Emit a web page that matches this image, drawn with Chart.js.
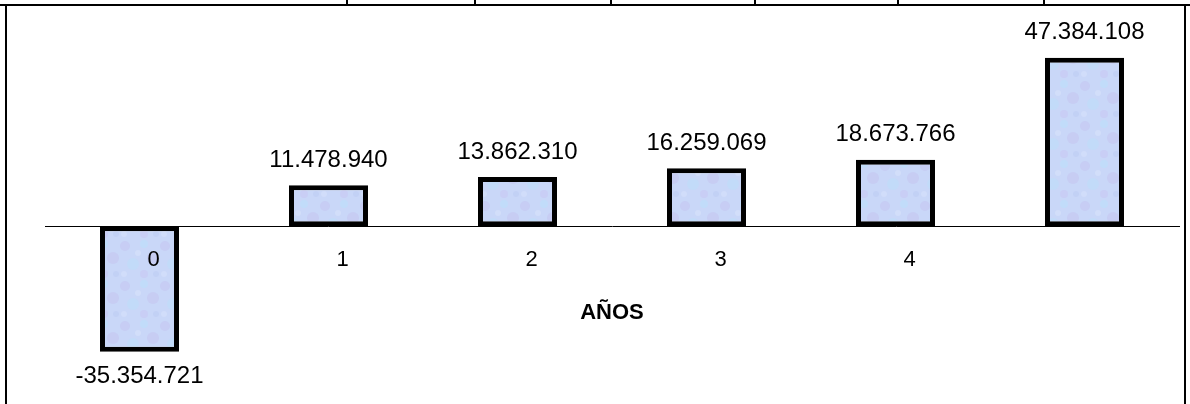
<!DOCTYPE html>
<html>
<head>
<meta charset="utf-8">
<script src="https://cdn.jsdelivr.net/npm/chart.js@4.4.1/dist/chart.umd.min.js"></script>
<style>
    html, body { margin: 0; padding: 0; background: #fff; }
    #wrap { position: relative; width: 1190px; height: 404px; overflow: hidden; }
    #wrap canvas { position: absolute; left: 0; top: 0; }
    .rule { position: absolute; background: #000; }
</style>
</head>
<body>
<div id="wrap">
    <canvas id="flujo" width="1190" height="404"></canvas>
    <!-- restos de la tabla de arriba -->
    <div class="rule" style="left:0;top:4px;width:1190px;height:2px"></div>
    <div class="rule" style="left:346px;top:0;width:2px;height:5px"></div>
    <div class="rule" style="left:474px;top:0;width:2px;height:5px"></div>
    <div class="rule" style="left:610px;top:0;width:2px;height:5px"></div>
    <div class="rule" style="left:754px;top:0;width:2px;height:5px"></div>
    <div class="rule" style="left:897px;top:0;width:2px;height:5px"></div>
    <div class="rule" style="left:1043px;top:0;width:2px;height:5px"></div>
    <div class="rule" style="left:5px;top:4px;width:2px;height:400px"></div>
    <div class="rule" style="left:1184px;top:4px;width:2px;height:400px"></div>
</div>
<script>
// datos
const years = ['0', '1', '2', '3', '4', '']
const flows = [-35354721, 11478940, 13862310, 16259069, 18673766, 47384108]
const yMin = -47500000
const yMax = 58000000

Chart.defaults.font.family = '"Liberation Sans", Arial, sans-serif'
Chart.defaults.color = '#000'

// 12345678 -> 12.345.678
const miles = v => (v < 0 ? '-' : '') + String(Math.abs(v)).replace(/\B(?=(\d{3})+(?!\d))/g, '.')

// relleno azul jaspeado de las barras
function textura() {
    const c = document.createElement('canvas')
    c.width = 40
    c.height = 40
    const g = c.getContext('2d')
    g.fillStyle = '#c9d7f8'
    g.fillRect(0, 0, 40, 40)
    const manchas = [
        [5, 6, 5, 'rgba(196,186,238,0.35)'],
        [24, 4, 4, 'rgba(184,226,252,0.45)'],
        [33, 18, 6, 'rgba(194,186,236,0.35)'],
        [13, 24, 6, 'rgba(186,224,250,0.4)'],
        [24, 34, 4, 'rgba(200,190,240,0.35)'],
        [4, 34, 3, 'rgba(218,228,252,0.5)'],
        [18, 13, 3, 'rgba(220,230,252,0.5)'],
        [36, 34, 3, 'rgba(186,200,240,0.4)'],
    ]
    manchas.forEach(([x, y, r, col]) => {
        g.fillStyle = col
        g.beginPath()
        g.arc(x, y, r, 0, Math.PI * 2)
        g.fill()
    })
    return g.createPattern(c, 'repeat')
}

// etiquetas de valor encima / debajo de cada barra
const valueLabels = {
    id: 'valueLabels',
    afterDatasetsDraw(chart) {
        const ctx = chart.ctx
        const meta = chart.getDatasetMeta(0)
        ctx.save()
        ctx.font = '24px "Liberation Sans", Arial, sans-serif'
        ctx.fillStyle = '#000'
        ctx.textAlign = 'center'
        ctx.textBaseline = 'middle'
        meta.data.forEach((bar, i) => {
            const v = flows[i]
            const y = v < 0 ? bar.y + 25 : bar.y - 25
            ctx.fillText(miles(v), bar.x, y)
        })
        ctx.restore()
    }
}

new Chart(document.getElementById('flujo'), {
    type: 'bar',
    data: {
        labels: years,
        datasets: [{
            data: flows,
            backgroundColor: textura(),
            borderColor: '#000',
            borderWidth: 5,
            borderSkipped: false,
            categoryPercentage: 1,
            barPercentage: 0.418,
        }]
    },
    options: {
        responsive: false,
        animation: false,
        devicePixelRatio: 1,
        layout: { padding: { left: 45, right: 11, top: 20, bottom: 9 } },
        plugins: {
            legend: { display: false },
            tooltip: { enabled: false },
        },
        scales: {
            x: {
                position: { y: 0 },
                offset: true,
                grid: { display: false, drawTicks: false },
                border: { display: true, color: '#000', width: 1 },
                ticks: {
                    z: 1,   // el "0" va encima de la barra negativa
                    color: '#000',
                    font: { size: 22 },
                    padding: 21,
                    labelOffset: 14,
                    maxRotation: 0,
                    autoSkip: false,
                },
                title: {
                    display: true,
                    text: 'AÑOS',
                    color: '#000',
                    font: { size: 22, weight: 'bold' },
                    padding: { top: 5, bottom: 0 },
                }
            },
            y: {
                display: false,
                min: yMin,
                max: yMax,
            }
        }
    },
    plugins: [valueLabels]
})
</script>
</body>
</html>
